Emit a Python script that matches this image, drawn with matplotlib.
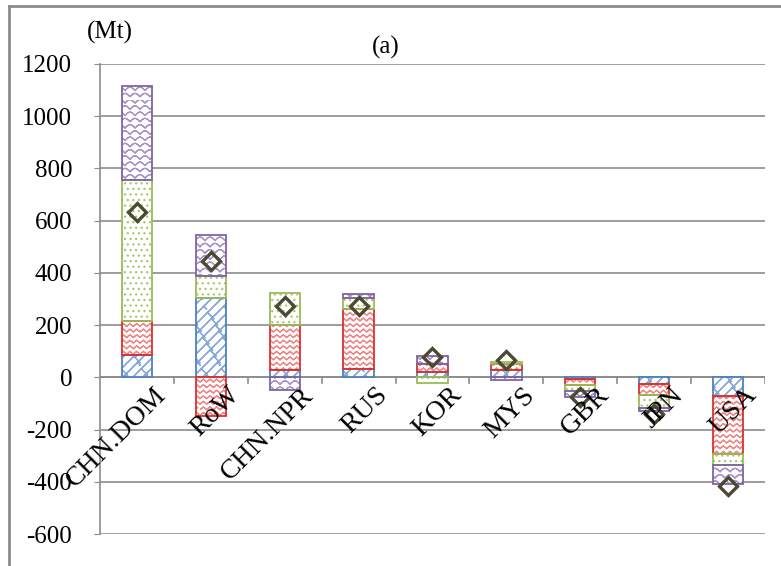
import warnings
import matplotlib.pyplot as plt
from matplotlib import hatch as mhatch
from matplotlib.path import Path
import numpy as np

warnings.filterwarnings('ignore')

regiones = ['CHN.DOM', 'RoW', 'CHN.NPR', 'RUS', 'KOR', 'MYS', 'GBR', 'JPN', 'USA']

# componentes (Mt)
azul = [85, 305, 27, 33, 20, 27, -5, -24, -73]
rojo = [130, -149, 172, 230, 32, 25, -26, -45, -220]
verde = [542, 83, 124, 42, -22, 7, -23, -49, -41]
morado = [358, 158, -50, 13, 30, -9, -23, -12, -74]
total = [633, 444, 272, 272, 78, 68, -74, -142, -415]


# tramas tipo Excel (ondas, ladrillos, escamas)
def onda(n_lin=18, n_per=15, amp=0.014):
    xs = np.linspace(0, 1, 2 * n_per + 1)
    signo = np.where(np.arange(len(xs)) % 2 == 0, -1, 1)
    return [np.column_stack([xs, y0 + amp * signo]) for y0 in (np.arange(n_lin) + 0.5) / n_lin]


def ladrillo(n=10, m=8):
    lineas = []
    for k in range(-n, n):
        x0 = k / n
        lineas.append(np.array([[x0, 0], [x0 + 1, 1]]))
        for j in range(m):
            t = (j + 0.5 * (k % 2)) / m
            lineas.append(np.array([[x0 + t, t], [x0 + t + 0.5 / n, t - 0.5 / n]]))
    return lineas


def escamas(n_lin=16, n_per=10, amp=0.035):
    xs = np.linspace(0, 1, 200)
    lineas = []
    for i, y0 in enumerate((np.arange(n_lin) + 0.5) / n_lin):
        desf = 0.5 * (i % 2) / n_per
        lineas.append(np.column_stack([xs, y0 + amp * np.abs(np.sin(np.pi * n_per * (xs + desf)))]))
    return lineas


class Trama(mhatch.HatchPatternBase):
    char = None
    lineas = []

    def __init__(self, hatch, density):
        activo = self.char in hatch
        self.num_vertices = sum(2 * len(l) - 1 for l in self.lineas) if activo else 0

    def set_vertices_and_codes(self, vertices, codes):
        i = 0
        for l in self.lineas:
            ida_vuelta = np.vstack([l, l[-2::-1]])
            n = len(ida_vuelta)
            vertices[i:i + n] = ida_vuelta
            codes[i] = Path.MOVETO
            codes[i + 1:i + n] = Path.LINETO
            i += n


class TramaOnda(Trama):
    char = '~'
    lineas = onda()


class TramaLadrillo(Trama):
    char = 'B'
    lineas = ladrillo()


class TramaEscamas(Trama):
    char = '^'
    lineas = escamas()


mhatch._hatch_types.extend([TramaOnda, TramaLadrillo, TramaEscamas])

plt.rcParams['font.family'] = ['Liberation Serif', 'DejaVu Serif']
plt.rcParams['axes.unicode_minus'] = False
plt.rcParams['hatch.linewidth'] = 0.9

fig = plt.figure(figsize=(7.81, 5.66), dpi=100)
ax = fig.add_axes([0.128, 0.0565, 0.8515, 0.8305])

x = np.arange(len(regiones))
series = [
    (azul, '#4F81BD', '#86A9D9', 'B'),
    (rojo, '#DC2F2F', '#EE8A8A', '~'),
    (verde, '#9BBB59', '#A9C76F', '...'),
    (morado, '#8064A2', '#A894C6', '^'),
]

pos = np.zeros(len(regiones))
neg = np.zeros(len(regiones))
for vals, borde, trama, hatch in series:
    vals = np.array(vals, dtype=float)
    base = np.where(vals >= 0, pos, neg)
    ax.bar(x, vals, bottom=base, width=0.41, color='white', edgecolor=trama,
           hatch=hatch, linewidth=0, zorder=3)
    ax.bar(x, vals, bottom=base, width=0.41, color='none', edgecolor=borde,
           linewidth=1.3, zorder=4)
    pos = pos + np.where(vals >= 0, vals, 0)
    neg = neg + np.where(vals < 0, vals, 0)

ax.plot(x, total, linestyle='none', marker='D', markersize=9, markerfacecolor='none',
        markeredgecolor='#4A4A32', markeredgewidth=2.4, zorder=5)

ax.set_ylim(-600, 1200)
ax.set_xlim(-0.5, len(regiones) - 0.5)
ax.set_yticks(np.arange(-600, 1201, 200))
ax.tick_params(axis='y', labelsize=18, length=4, color='#8C8C8C', pad=16)
ax.yaxis.grid(True, color='#8C8C8C', linewidth=1.2)
ax.set_axisbelow(True)

for s in ['top', 'right', 'bottom']:
    ax.spines[s].set_visible(False)
ax.spines['left'].set_color('#8C8C8C')
ax.spines['left'].set_linewidth(1.2)

ax.axhline(0, color='#8C8C8C', linewidth=1.2, zorder=2)
ax.set_xticks([])
for b in np.arange(0.5, len(regiones) - 0.5 + 0.01, 1.0):
    ax.plot([b, b], [0, -22], color='#8C8C8C', linewidth=1.2, zorder=2)

for i, r in enumerate(regiones):
    ax.text(i + 0.22, -20, r, rotation=45, ha='right', va='top',
            rotation_mode='anchor', fontsize=20, zorder=6)

fig.text(0.141, 0.942, '(Mt)', fontsize=18, ha='center', va='center')
fig.text(0.494, 0.917, '(a)', fontsize=18, ha='center', va='center')

# marco exterior
fig.add_artist(plt.Line2D([0.011, 0.011], [0, 0.99], color='#8C8C8C', linewidth=2))
fig.add_artist(plt.Line2D([0.011, 1], [0.99, 0.99], color='#8C8C8C', linewidth=2))

plt.savefig('out.png', dpi=100)
